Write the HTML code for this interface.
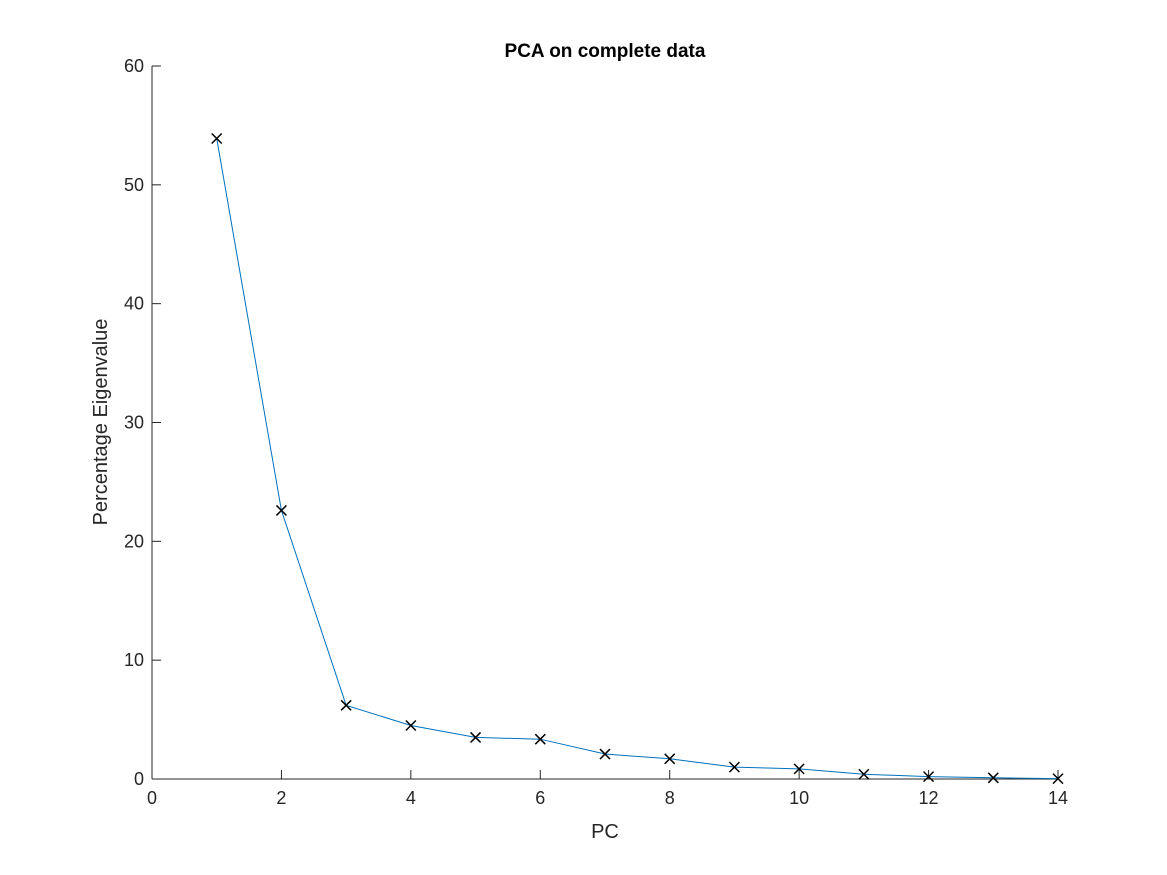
<!DOCTYPE html>
<html><head><meta charset="utf-8"><style>
body{margin:0;background:#fff;}
svg{display:block;font-family:"Liberation Sans",sans-serif;}
</style></head><body>
<svg id="chart" width="1167" height="875">
<rect width="1167" height="875" fill="#fff"/>
<text x="605" y="57" text-anchor="middle" font-size="19" font-weight="bold" fill="#000">PCA on complete data</text>
<g id="axes"></g>
<g id="series"></g>
<text x="605" y="838" text-anchor="middle" font-size="20" fill="#262626">PC</text>
<text transform="translate(107,422) rotate(-90)" text-anchor="middle" font-size="20" fill="#262626">Percentage Eigenvalue</text>
</svg>
<script>
const pcs=[1,2,3,4,5,6,7,8,9,10,11,12,13,14];
const eigenPct=[53.9,22.6,6.2,4.5,3.5,3.35,2.1,1.7,1.0,0.85,0.4,0.2,0.1,0.03];
const xTicks=[0,2,4,6,8,10,12,14];
const yTicks=[0,10,20,30,40,50,60];
const X0=152,X1=1058,Y0=779,Y1=66;
const xs=v=>X0+(v-0)/(14-0)*(X1-X0);
const ys=v=>Y0-(v-0)/(60-0)*(Y0-Y1);
const NS="http://www.w3.org/2000/svg";
const ax=document.getElementById('axes'),se=document.getElementById('series');
function mk(t,a,p){const e=document.createElementNS(NS,t);for(const k in a)e.setAttribute(k,a[k]);p.appendChild(e);return e;}
const xl=mk('line',{x1:X0,y1:Y0,x2:X1,y2:Y0,stroke:'#262626','stroke-width':1},ax);


const yl=mk('line',{x1:X0,y1:Y0,x2:X0,y2:Y1,stroke:'#262626','stroke-width':1},ax);


xTicks.forEach(v=>{
  mk('line',{x1:xs(v),y1:Y0,x2:xs(v),y2:Y0-9,stroke:'#262626'},ax);
  const t=mk('text',{x:xs(v),y:Y0+25,'text-anchor':'middle','font-size':18,fill:'#262626'},ax);
  t.textContent=v;
  
  
});
yTicks.forEach(v=>{
  mk('line',{x1:X0,y1:ys(v),x2:X0+9,y2:ys(v),stroke:'#262626'},ax);
  const t=mk('text',{x:X0-8,y:ys(v)+6,'text-anchor':'end','font-size':18,fill:'#262626'},ax);
  t.textContent=v;
  
  
});
const line=mk('polyline',{points:pcs.map((p,i)=>xs(p)+','+ys(eigenPct[i])).join(' '),fill:'none',stroke:'#0072BD','stroke-width':1},se);


pcs.forEach((p,i)=>{
  const x=xs(p),y=ys(eigenPct[i]),d=5;
  const m=mk('path',{d:`M${x-d},${y-d}L${x+d},${y+d}M${x-d},${y+d}L${x+d},${y-d}`,stroke:'#000','stroke-width':1.5},se);
  
  
});
</script>
</body></html>
